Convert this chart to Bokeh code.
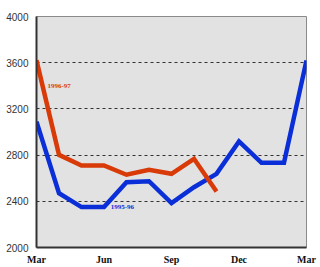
from bokeh.plotting import figure
from bokeh.models import FixedTicker, Range1d, Label
from bokeh.embed import file_html
from bokeh.resources import INLINE

months = ["Mar", "Apr", "May", "Jun", "Jul", "Aug", "Sep", "Oct", "Nov", "Dec", "Jan", "Feb", "Mar"]
s_1995_96 = [3090, 2470, 2350, 2350, 2565, 2574, 2384, 2522, 2638, 2918, 2733, 2733, 3620]
s_1996_97 = [3620, 2802, 2710, 2710, 2630, 2673, 2638, 2768, 2485]
tick_positions = [0, 3, 6, 9, 12]
y_ticks = [2000, 2400, 2800, 3200, 3600, 4000]

x95 = list(range(len(s_1995_96)))
x96 = list(range(len(s_1996_97)))

p = figure(width=320, height=267, output_backend="svg", toolbar_location=None,
           x_range=Range1d(0, 12), y_range=Range1d(2000, 4000),
           min_border_left=36, min_border_right=14, min_border_top=16, min_border_bottom=20)
p.border_fill_color = "white"
p.background_fill_color = "#e2e2e2"
p.outline_line_color = "#8a8a8a"
p.outline_line_width = 1

p.xgrid.visible = False
p.ygrid.ticker = FixedTicker(ticks=[2400, 2800, 3200, 3600])
p.ygrid.grid_line_color = "#333333"
p.ygrid.grid_line_dash = "3 3"
p.ygrid.grid_line_width = 1

p.line(x95, s_1995_96, line_color="#0a2ed8", line_width=4.5, line_join="miter")
p.line(x96, s_1996_97, line_color="#d83a08", line_width=4.5, line_join="miter")

p.xaxis.ticker = FixedTicker(ticks=tick_positions)
p.xaxis.major_label_overrides = {t: months[t] for t in tick_positions}
p.xaxis.major_label_text_font = "Liberation Serif"
p.xaxis.major_label_text_font_style = "bold"
p.xaxis.major_label_text_font_size = "10px"
p.xaxis.major_label_text_color = "#111111"
p.xaxis.major_label_standoff = 6
p.xaxis.major_tick_out = 0
p.xaxis.major_tick_in = 0
p.xaxis.minor_tick_out = 0
p.xaxis.minor_tick_in = 0
p.xaxis.major_tick_line_color = None
p.xaxis.minor_tick_line_color = None
p.xaxis.axis_line_color = "#333333"
p.xaxis.axis_line_width = 2

p.yaxis.ticker = FixedTicker(ticks=y_ticks)
p.yaxis.major_label_text_font = "Liberation Sans"
p.yaxis.major_label_text_font_size = "10px"
p.yaxis.major_label_text_color = "#333333"
p.yaxis.major_label_standoff = 8
p.yaxis.major_tick_out = 0
p.yaxis.major_tick_in = 0
p.yaxis.minor_tick_out = 0
p.yaxis.minor_tick_in = 0
p.yaxis.major_tick_line_color = None
p.yaxis.minor_tick_line_color = None
p.yaxis.axis_line_color = "#333333"
p.yaxis.axis_line_width = 2

p.add_layout(Label(x=0.49, y=3400, text="1996-97", text_font="Liberation Serif",
                   text_font_style="bold", text_font_size="7px", text_color="#d83a08",
                   text_baseline="middle"))
p.add_layout(Label(x=3.3, y=2350, text="1995-96", text_font="Liberation Serif",
                   text_font_style="bold", text_font_size="7px", text_color="#0a2ed8",
                   text_baseline="middle"))

open("out.html", "w").write(file_html(p, INLINE))
